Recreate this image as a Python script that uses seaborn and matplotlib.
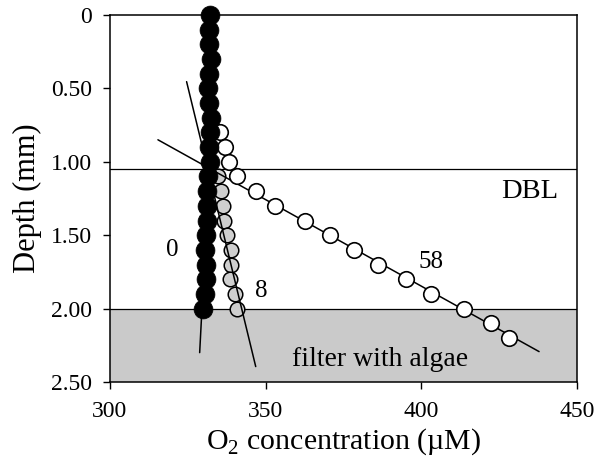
import matplotlib
matplotlib.use("Agg")
import matplotlib.pyplot as plt
import pandas as pd
import seaborn as sns

# O2 profiles (depth in mm, O2 in uM)
depth_0 = [0.0, 0.1, 0.2, 0.3, 0.4, 0.5, 0.6, 0.7, 0.8, 0.9, 1.0,
           1.1, 1.2, 1.3, 1.4, 1.5, 1.6, 1.7, 1.8, 1.9, 2.0]
o2_0 = [332.0, 331.8, 331.8, 332.3, 331.8, 331.5, 331.8, 332.3, 332.0, 331.8, 332.0,
        331.5, 331.2, 331.0, 331.0, 330.8, 330.4, 330.8, 330.8, 330.4, 329.9]

depth_8 = [1.1, 1.2, 1.3, 1.4, 1.5, 1.6, 1.7, 1.8, 1.9, 2.0]
o2_8 = [334.7, 335.8, 336.3, 336.5, 337.6, 339.0, 339.0, 338.7, 340.1, 340.8]

depth_58 = [0.8, 0.9, 1.0, 1.1, 1.2, 1.3, 1.4, 1.5, 1.6, 1.7, 1.8, 1.9, 2.0, 2.1, 2.2]
o2_58 = [335.3, 336.9, 338.1, 340.8, 347.0, 352.9, 362.5, 370.5, 378.5, 386.0,
         395.1, 403.1, 413.8, 422.3, 428.2]

# fitted lines (end points)
fit_0_x = [332.0, 328.8]
fit_0_y = [1.0, 2.3]
fit_8_x = [324.6, 346.8]
fit_8_y = [0.454, 2.395]
fit_58_x = [315.4, 437.8]
fit_58_y = [0.85, 2.293]

dbl_depth = 1.05
filter_top = 2.0

x_ticks = [300, 350, 400, 450]
y_ticks = [0, 0.5, 1.0, 1.5, 2.0, 2.5]
y_tick_labels = ["0", "0.50", "1.00", "1.50", "2.00", "2.50"]


def main():
    sns.set_theme(style="ticks")
    plt.rcParams["font.family"] = ["Liberation Serif", "DejaVu Serif"]
    plt.rcParams["mathtext.fontset"] = "custom"
    plt.rcParams["mathtext.rm"] = "Liberation Serif"
    plt.rcParams["text.color"] = "black"
    plt.rcParams["axes.labelcolor"] = "black"
    plt.rcParams["xtick.color"] = "black"
    plt.rcParams["ytick.color"] = "black"

    fig = plt.figure(figsize=(6.03, 4.62), dpi=100)
    ax = fig.add_axes([0.1824, 0.1732, 0.957 - 0.1824, 0.9675 - 0.1732])

    # filter layer and DBL boundary
    ax.axhspan(filter_top, 2.5, facecolor="#cacaca", edgecolor="none", zorder=0.5)
    ax.axhline(filter_top, color="black", lw=0.9, zorder=0.6)
    ax.axhline(dbl_depth, color="black", lw=0.9, zorder=0.6)

    df0 = pd.DataFrame({"o2": o2_0, "depth": depth_0})
    df8 = pd.DataFrame({"o2": o2_8, "depth": depth_8})
    df58 = pd.DataFrame({"o2": o2_58, "depth": depth_58})

    sns.scatterplot(data=df8, x="o2", y="depth", ax=ax, s=110, color="#cfcfcf",
                    edgecolor="black", linewidth=1.1, zorder=2, clip_on=False)
    sns.lineplot(x=fit_8_x, y=fit_8_y, ax=ax, color="black", lw=1.1, zorder=3)
    sns.lineplot(x=fit_58_x, y=fit_58_y, ax=ax, color="black", lw=1.1, zorder=3)
    sns.scatterplot(data=df58, x="o2", y="depth", ax=ax, s=125, color="white",
                    edgecolor="black", linewidth=1.2, zorder=4, clip_on=False)
    sns.lineplot(x=fit_0_x, y=fit_0_y, ax=ax, color="black", lw=1.1, zorder=4.5)
    sns.scatterplot(data=df0, x="o2", y="depth", ax=ax, s=185, color="black",
                    edgecolor="black", linewidth=0.5, zorder=5, clip_on=False)

    # labels on the plot
    ax.text(320.1, 1.60, "0", fontsize=18, ha="center", va="center")
    ax.text(348.6, 1.88, "8", fontsize=18, ha="center", va="center")
    ax.text(403.1, 1.68, "58", fontsize=18, ha="center", va="center")
    ax.text(444.0, 1.20, "DBL", fontsize=20.5, ha="right", va="center")
    ax.text(386.7, 2.35, "filter with algae", fontsize=20, ha="center", va="center")

    ax.set_xlim(300, 450)
    ax.set_ylim(2.5, 0)
    ax.set_xticks(x_ticks)
    ax.set_yticks(y_ticks)
    ax.set_yticklabels(y_tick_labels)
    ax.tick_params(axis="both", direction="out", length=5, width=1.0,
                   labelsize=17, color="black", labelcolor="black")
    ax.tick_params(axis="x", pad=9)
    ax.tick_params(axis="y", pad=8)
    for sp in ax.spines.values():
        sp.set_linewidth(1.1)
        sp.set_color("black")
    ax.set_xlabel("O$_2$ concentration (µM)", fontsize=21.5, labelpad=3)
    ax.set_ylabel("Depth (mm)", fontsize=22, labelpad=6)

    fig.savefig("out.png", dpi=100)
    plt.close(fig)


if __name__ == "__main__":
    main()
